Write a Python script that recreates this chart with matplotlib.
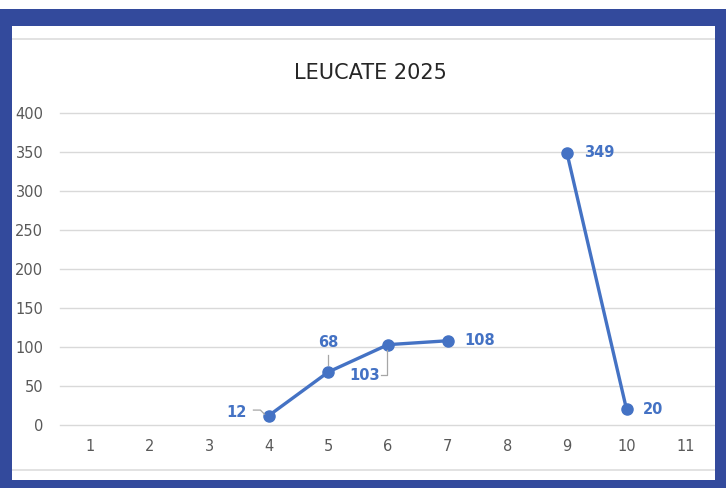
import matplotlib
matplotlib.use("Agg")
import matplotlib.pyplot as plt
from matplotlib.patches import Rectangle
from matplotlib.lines import Line2D
import numpy as np

categories = [1, 2, 3, 4, 5, 6, 7, 8, 9, 10, 11]
values = [None, None, None, 12, 68, 103, 108, None, 349, 20, None]
title = "LEUCATE 2025"
yticks = [0, 50, 100, 150, 200, 250, 300, 350, 400]

W, H = 726, 488
fig = plt.figure(figsize=(W / 100, H / 100), dpi=100)
fig.patch.set_facecolor("white")

ax = fig.add_axes([60 / W, 1 - 425 / H, (716 - 60) / W, (425 - 113) / H])
blue = "#4472C4"
y = np.array([np.nan if v is None else v for v in values], dtype=float)
x = np.array(categories)
ax.plot(x, y, color=blue, lw=2.4, marker="o", ms=8, zorder=3, solid_capstyle="round")

ax.set_xlim(0.5, 11.5)
ax.set_ylim(0, 400)
ax.set_yticks(yticks)
ax.set_xticks(categories)
for t in yticks:
    ax.axhline(t, color="#D9D9D9", lw=1, zorder=1, clip_on=False)
for s in ax.spines.values():
    s.set_visible(False)
ax.tick_params(length=0, colors="#595959", labelsize=10.5)
ax.tick_params(axis="x", pad=10)
ax.tick_params(axis="y", pad=12)

# data labels
offsets = {4: (-16, 2, "right", "center"), 5: (0, 21, "center", "center"),
           6: (-17, -22, "center", "center"), 7: (12, 0, "left", "center"),
           9: (12, 0, "left", "center"), 10: (12, 0, "left", "center")}
for xi, v in zip(categories, values):
    if v is None:
        continue
    dx, dy, ha, va = offsets[xi]
    ax.annotate(str(v), (xi, v), xytext=(dx, dy), textcoords="offset points",
                ha=ha, va=va, color=blue, fontsize=10.5, fontweight="bold")

# leader lines (in offset points from data point)
def leader(xi, v, pts):
    tr = ax.transData
    px, py = tr.transform((xi, v))
    xs = [px + p[0] * 100 / 72 for p in pts]
    ys = [py + p[1] * 100 / 72 for p in pts]
    fig.add_artist(Line2D(xs, ys, transform=None, color="#A6A6A6", lw=0.9, zorder=2))

leader(4, 12, [(-11, 4), (-6, 4), (-3, 1)])
leader(5, 68, [(0, 12), (0, 5)])
leader(6, 103, [(-5, -22), (-1, -22), (-1, -4)])

fig.text(370 / W, 1 - 73 / H, title, ha="center", va="center", fontsize=15, color="#262626")

# frame
frame = "#334A9C"
def rect(x0, y0, x1, y1, c):
    fig.add_artist(Rectangle((x0 / W, 1 - y1 / H), (x1 - x0) / W, (y1 - y0) / H,
                             transform=fig.transFigure, facecolor=c, edgecolor="none", zorder=10))
rect(0, 9, 12, 488, frame)
rect(0, 9, 726, 26, frame)
rect(715, 9, 726, 488, frame)
rect(0, 480, 726, 488, frame)
for yy in (39, 470):
    fig.add_artist(Line2D([12 / W, 715 / W], [1 - yy / H, 1 - yy / H], transform=fig.transFigure,
                          color="#DDDDDD", lw=1.2, zorder=5))

fig.savefig("out.png", dpi=100)
